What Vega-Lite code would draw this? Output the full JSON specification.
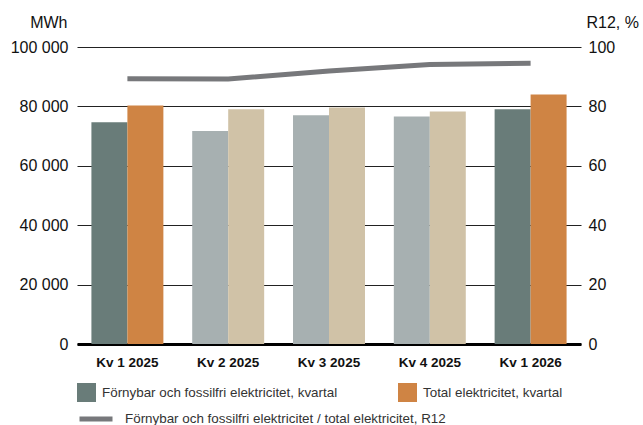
{
  "$schema": "https://vega.github.io/schema/vega-lite/v6.json",
  "width": 504,
  "height": 297,
  "autosize": {"type": "none"},
  "padding": {"left": 77, "top": 47, "right": 62, "bottom": 81},
  "datasets": {
    "bars": [
      {"kvartal": "Kv 1 2025", "serie": "Förnybar", "kategori": "Förnybar och fossilfri elektricitet, kvartal", "mwh": 74700},
      {"kvartal": "Kv 1 2025", "serie": "Total", "kategori": "Total elektricitet, kvartal", "mwh": 80300},
      {"kvartal": "Kv 2 2025", "serie": "Förnybar", "kategori": "Förnybar, övriga kvartal", "mwh": 71700},
      {"kvartal": "Kv 2 2025", "serie": "Total", "kategori": "Total, övriga kvartal", "mwh": 79000},
      {"kvartal": "Kv 3 2025", "serie": "Förnybar", "kategori": "Förnybar, övriga kvartal", "mwh": 77000},
      {"kvartal": "Kv 3 2025", "serie": "Total", "kategori": "Total, övriga kvartal", "mwh": 79600},
      {"kvartal": "Kv 4 2025", "serie": "Förnybar", "kategori": "Förnybar, övriga kvartal", "mwh": 76600},
      {"kvartal": "Kv 4 2025", "serie": "Total", "kategori": "Total, övriga kvartal", "mwh": 78300},
      {"kvartal": "Kv 1 2026", "serie": "Förnybar", "kategori": "Förnybar och fossilfri elektricitet, kvartal", "mwh": 79000},
      {"kvartal": "Kv 1 2026", "serie": "Total", "kategori": "Total elektricitet, kvartal", "mwh": 84000}
    ],
    "r12": [
      {"kvartal": "Kv 1 2025", "serie": "Förnybar och fossilfri elektricitet / total elektricitet, R12", "andel": 89.3},
      {"kvartal": "Kv 2 2025", "serie": "Förnybar och fossilfri elektricitet / total elektricitet, R12", "andel": 89.2},
      {"kvartal": "Kv 3 2025", "serie": "Förnybar och fossilfri elektricitet / total elektricitet, R12", "andel": 91.9},
      {"kvartal": "Kv 4 2025", "serie": "Förnybar och fossilfri elektricitet / total elektricitet, R12", "andel": 94.1},
      {"kvartal": "Kv 1 2026", "serie": "Förnybar och fossilfri elektricitet / total elektricitet, R12", "andel": 94.5}
    ]
  },
  "layer": [
    {
      "data": {"name": "bars"},
      "mark": {"type": "bar"},
      "encoding": {
        "x": {
          "field": "kvartal", "type": "nominal",
          "sort": ["Kv 1 2025", "Kv 2 2025", "Kv 3 2025", "Kv 4 2025", "Kv 1 2026"],
          "scale": {"paddingInner": 0.286, "paddingOuter": 0.143},
          "axis": {
            "title": null, "labelAngle": 0, "ticks": false,
            "domain": true, "domainColor": "#000000", "domainWidth": 3,
            "labelFont": "Liberation Sans", "labelFontSize": 13.5, "labelFontWeight": "bold",
            "labelColor": "#111111", "labelPadding": 11
          }
        },
        "xOffset": {"field": "serie", "type": "nominal", "sort": ["Förnybar", "Total"], "scale": {"paddingInner": 0, "paddingOuter": 0}},
        "y": {
          "field": "mwh", "type": "quantitative",
          "scale": {"domain": [0, 100000], "nice": false},
          "axis": {
            "values": [0, 20000, 40000, 60000, 80000, 100000],
            "format": ",.0f",
            "title": "MWh", "titleAngle": 0, "titleX": -10, "titleY": -20, "titleAlign": "right", "titleBaseline": "alphabetic",
            "titleFont": "Liberation Sans", "titleFontSize": 16, "titleFontWeight": "normal", "titleColor": "#111111",
            "labelFont": "Liberation Sans", "labelFontSize": 16, "labelColor": "#111111", "labelPadding": 9,
            "domain": false, "ticks": false,
            "grid": true, "gridColor": "#222222", "gridWidth": 1.2
          }
        },
        "color": {
          "field": "kategori", "type": "nominal",
          "scale": {
            "domain": ["Förnybar och fossilfri elektricitet, kvartal", "Total elektricitet, kvartal", "Förnybar, övriga kvartal", "Total, övriga kvartal"],
            "range": ["#697c79", "#cf8444", "#a7b0b1", "#d0c2a7"]
          },
          "legend": {
            "values": ["Förnybar och fossilfri elektricitet, kvartal", "Total elektricitet, kvartal"],
            "orient": "none", "legendX": 0, "legendY": 336, "direction": "horizontal", "columns": 2,
            "title": null, "padding": 0,
            "symbolType": "square", "symbolSize": 361, "symbolStrokeWidth": 0, "symbolOpacity": 1,
            "labelFont": "Liberation Sans", "labelFontSize": 13.4, "labelColor": "#333333",
            "labelOffset": 6, "labelLimit": 400, "columnPadding": 60
          }
        }
      }
    },
    {
      "data": {"name": "r12"},
      "mark": {"type": "line", "strokeWidth": 5, "strokeCap": "butt"},
      "encoding": {
        "x": {"field": "kvartal", "type": "nominal", "sort": ["Kv 1 2025", "Kv 2 2025", "Kv 3 2025", "Kv 4 2025", "Kv 1 2026"]},
        "y": {
          "field": "andel", "type": "quantitative",
          "scale": {"domain": [0, 100], "nice": false},
          "axis": {
            "orient": "right",
            "values": [0, 20, 40, 60, 80, 100],
            "title": "R12, %", "titleAngle": 0, "titleX": 5, "titleY": -20, "titleAlign": "left", "titleBaseline": "alphabetic",
            "titleFont": "Liberation Sans", "titleFontSize": 16, "titleFontWeight": "normal", "titleColor": "#111111",
            "labelFont": "Liberation Sans", "labelFontSize": 16, "labelColor": "#111111", "labelPadding": 7,
            "domain": false, "ticks": false, "grid": false
          }
        },
        "color": {
          "field": "serie", "type": "nominal",
          "scale": {"range": ["#77787b"]},
          "legend": {
            "orient": "none", "legendX": 0, "legendY": 353,
            "title": null, "padding": 0,
            "symbolType": "stroke", "symbolSize": 1089, "symbolStrokeWidth": 5,
            "labelFont": "Liberation Sans", "labelFontSize": 13.4, "labelColor": "#333333",
            "labelOffset": 10, "labelLimit": 500
          }
        }
      }
    }
  ],
  "resolve": {"scale": {"y": "independent", "color": "independent"}},
  "config": {
    "view": {"stroke": null},
    "locale": {"number": {"decimal": ",", "thousands": " ", "grouping": [3], "currency": ["", " kr"]}}
  }
}
